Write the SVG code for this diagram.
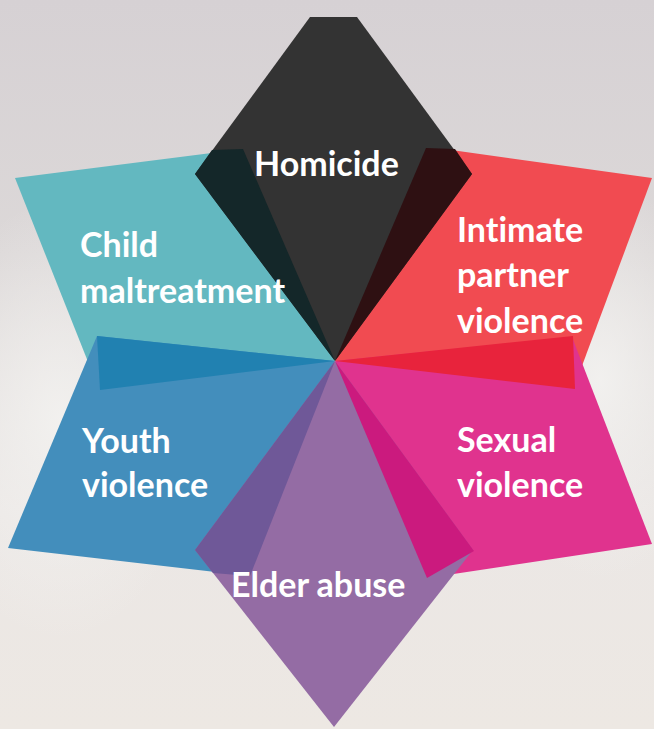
<svg xmlns="http://www.w3.org/2000/svg" width="654" height="729" viewBox="0 0 654 729">
<defs>
<linearGradient id="bg" x1="0" y1="0" x2="0" y2="1">
<stop offset="0" stop-color="#d6d1d4"/>
<stop offset="0.35" stop-color="#dcd8d8"/>
<stop offset="0.7" stop-color="#ebe7e5"/>
<stop offset="1" stop-color="#ede8e3"/>
</linearGradient>
<radialGradient id="glowL" cx="0.5" cy="0.5" r="0.5">
<stop offset="0" stop-color="#f3f2f0" stop-opacity="0.9"/>
<stop offset="1" stop-color="#f3f2f0" stop-opacity="0"/>
</radialGradient>
<style>
.lbl{font-family:Lato,"Open Sans","Liberation Sans",sans-serif;font-weight:bold;font-size:34px;fill:#ffffff;font-variant-ligatures:none;font-feature-settings:"liga" 0,"clig" 0}
</style>
</defs>
<rect width="654" height="729" fill="url(#bg)"/>
<ellipse cx="60" cy="420" rx="140" ry="220" fill="url(#glowL)"/>
<ellipse cx="600" cy="380" rx="120" ry="200" fill="url(#glowL)"/>
<g id="connectors"></g>
<g id="child-maltreatment">
<polygon points="15,178 243,149 335,361 100,392" fill="#63b8c0"/>
</g>
<g id="intimate-partner-violence">
<polygon points="335,361 430,147 652,178 573,390" fill="#f14b51"/>
</g>
<g id="homicide">
<polygon points="335,361 195,174 310,17 357,17 472,174" fill="#333333"/>
<polygon points="195,174 212,150 243,149 335,361" fill="#142729"/>
<polygon points="472,174 455,149 426,148 335,361" fill="#2e1012"/>
<text class="lbl" x="254" y="176">Homicide</text>
</g>
<g id="youth-violence">
<polygon points="335,361 97,336 8,548 250,576" fill="#438ebc"/>
<polygon points="335,361 97,336 100,390" fill="#2181b1"/>
</g>
<g id="sexual-violence">
<polygon points="335,361 572,337 652,544 427,578" fill="#e0338e"/>
<polygon points="335,361 573,336 575,389" fill="#e8233c"/>
</g>
<g id="elder-abuse">
<polygon points="335,361 195,550 334,727 473,550" fill="#946ca4"/>
<polygon points="335,361 195,550 213,573 250,576" fill="#6f5898"/>
<polygon points="335,361 474,551 427,578" fill="#cb1a7e"/>
<text class="lbl" x="231" y="597">Elder abuse</text>
</g>
<g id="labels">
<text class="lbl" x="80" y="257">Child</text>
<text class="lbl" x="80" y="303">maltreatment</text>
<text class="lbl" x="457" y="242">Intimate</text>
<text class="lbl" x="457" y="287">partner</text>
<text class="lbl" x="457" y="333">violence</text>
<text class="lbl" x="82" y="453">Youth</text>
<text class="lbl" x="82" y="497">violence</text>
<text class="lbl" x="457" y="452">Sexual</text>
<text class="lbl" x="457" y="497">violence</text>
</g>
</svg>
